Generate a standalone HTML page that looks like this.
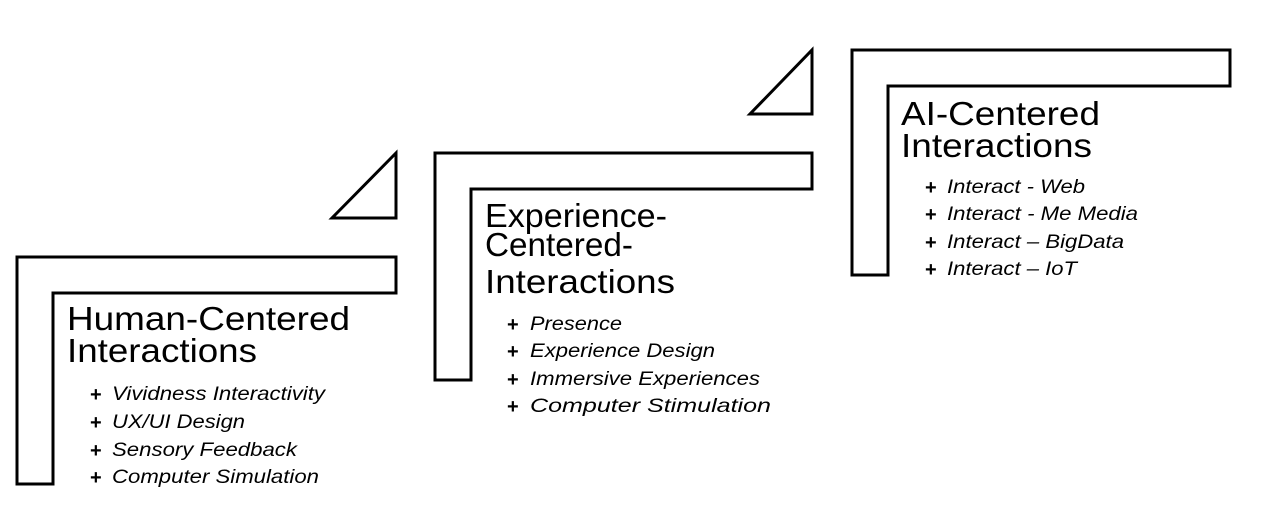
<!DOCTYPE html>
<html><head><meta charset="utf-8"><style>
html,body{margin:0;padding:0;background:#fff;}
svg{display:block;}
text{font-family:"Liberation Sans",Arial,sans-serif;fill:#000;}
.t{font-size:33px;}
.i{font-size:19px;font-style:italic;}
.p{font-size:20px;font-weight:bold;}
</style></head><body>
<svg width="1261" height="526" viewBox="0 0 1261 526" xmlns="http://www.w3.org/2000/svg">
<g fill="none" stroke="#000" stroke-width="3" stroke-linejoin="miter">
<polygon points="17,257 396,257 396,293 53,293 53,484 17,484"/>
<polygon points="332,218 396,218 396,153"/>
<polygon points="435,153 812,153 812,189 471,189 471,380 435,380"/>
<polygon points="750,114 812,114 812,50"/>
<polygon points="852,50 1230,50 1230,86 888,86 888,275 852,275"/>
</g>
<g lengthAdjust="spacingAndGlyphs">
<text class="t" x="67" y="330" textLength="283" lengthAdjust="spacingAndGlyphs">Human-Centered</text>
<text class="t" x="67" y="362" textLength="190" lengthAdjust="spacingAndGlyphs">Interactions</text>
<text class="p" x="90" y="401">+</text><text class="i" x="112" y="400" textLength="213" lengthAdjust="spacingAndGlyphs">Vividness Interactivity</text>
<text class="p" x="90" y="429">+</text><text class="i" x="112" y="428" textLength="133" lengthAdjust="spacingAndGlyphs">UX/UI Design</text>
<text class="p" x="90" y="457">+</text><text class="i" x="112" y="456" textLength="185" lengthAdjust="spacingAndGlyphs">Sensory Feedback</text>
<text class="p" x="90" y="484">+</text><text class="i" x="112" y="483" textLength="207" lengthAdjust="spacingAndGlyphs">Computer Simulation</text>

<text class="t" x="485" y="227" textLength="182" lengthAdjust="spacingAndGlyphs">Experience-</text>
<text class="t" x="485" y="256" textLength="148" lengthAdjust="spacingAndGlyphs">Centered-</text>
<text class="t" x="485" y="293" textLength="190" lengthAdjust="spacingAndGlyphs">Interactions</text>
<text class="p" x="507" y="331">+</text><text class="i" x="530" y="330" textLength="92" lengthAdjust="spacingAndGlyphs">Presence</text>
<text class="p" x="507" y="358">+</text><text class="i" x="530" y="357" textLength="185" lengthAdjust="spacingAndGlyphs">Experience Design</text>
<text class="p" x="507" y="386">+</text><text class="i" x="530" y="385" textLength="230" lengthAdjust="spacingAndGlyphs">Immersive Experiences</text>
<text class="p" x="507" y="413">+</text><text class="i" x="530" y="412" textLength="241" lengthAdjust="spacingAndGlyphs">Computer Stimulation</text>

<text class="t" x="901" y="125" textLength="199" lengthAdjust="spacingAndGlyphs">AI-Centered</text>
<text class="t" x="901" y="157" textLength="191" lengthAdjust="spacingAndGlyphs">Interactions</text>
<text class="p" x="925" y="194">+</text><text class="i" x="947" y="193" textLength="138" lengthAdjust="spacingAndGlyphs">Interact - Web</text>
<text class="p" x="925" y="221">+</text><text class="i" x="947" y="220" textLength="191" lengthAdjust="spacingAndGlyphs">Interact - Me Media</text>
<text class="p" x="925" y="249">+</text><text class="i" x="947" y="248" textLength="177" lengthAdjust="spacingAndGlyphs">Interact – BigData</text>
<text class="p" x="925" y="276">+</text><text class="i" x="947" y="275" textLength="130" lengthAdjust="spacingAndGlyphs">Interact – IoT</text>
</g>
</svg>
</body></html>
